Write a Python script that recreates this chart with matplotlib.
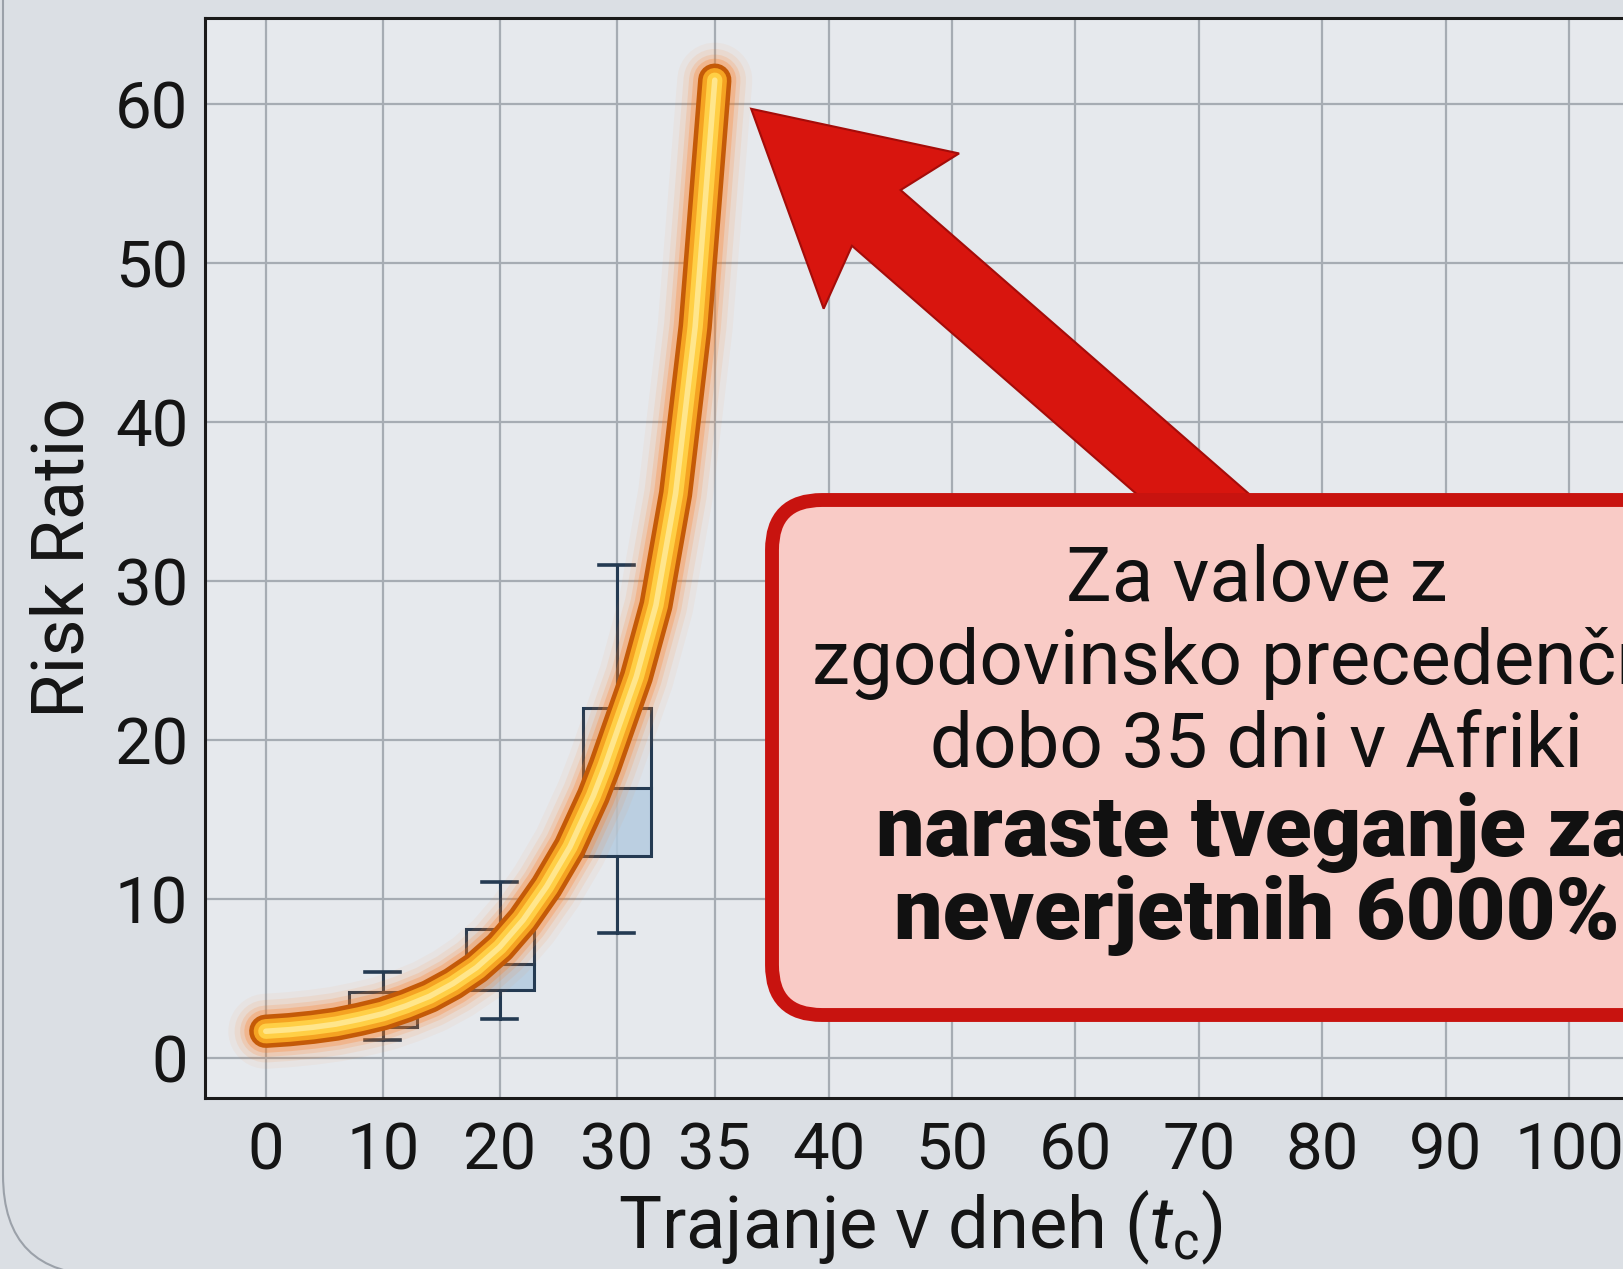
import numpy as np
import matplotlib
matplotlib.use('Agg')
import matplotlib.pyplot as plt
from matplotlib.patches import FancyBboxPatch, Rectangle, Polygon
from matplotlib.transforms import IdentityTransform

plt.rcParams['font.family'] = ['Roboto', 'DejaVu Sans']
plt.rcParams['mathtext.fontset'] = 'custom'
plt.rcParams['mathtext.rm'] = 'Roboto'
plt.rcParams['mathtext.it'] = 'Roboto:italic'

# risk ratio curve
days = [0, 2, 4, 6, 8, 10, 12, 14, 16, 18, 20, 22, 24, 26, 28, 29, 30, 31, 32, 33, 34, 35]
risk = [1.7, 1.8, 1.95, 2.15, 2.45, 2.8, 3.3, 3.9, 4.7, 5.7, 7.0, 8.7, 10.8, 13.3, 16.5,
        18.4, 20.5, 24.0, 28.5, 35.5, 46.0, 61.5]

# box plots
box_days = [10, 20, 30]
box_low = [1.15, 2.45, 7.9]
box_q1 = [1.95, 4.3, 12.7]
box_med = [3.0, 5.9, 17.0]
box_q3 = [4.2, 8.1, 22.0]
box_high = [5.4, 11.1, 31.0]

x_ticks = [0, 10, 20, 30, 35, 40, 50, 60, 70, 80, 90, 100]
y_ticks = [0, 10, 20, 30, 40, 50, 60]

note_lines = ['Za valove z', 'zgodovinsko precedenčno', 'dobo 35 dni v Afriki']
note_bold = ['naraste tveganje za', 'neverjetnih 6000%']

# arrow from the callout to the top of the curve
arrow_tip = (36.6, 59.7)
arrow_tail = (74.8, 31.9)

# uneven spacing of the day axis (30-35-40 is stretched)
scale_days = [-100, 0, 30, 35, 40, 100, 300]
scale_pos = [-96.7, 0, 29.0, 37.1, 46.5, 107.7, 311.7]


def fwd(x):
    return np.interp(x, scale_days, scale_pos)


def inv(x):
    return np.interp(x, scale_pos, scale_days)


fig = plt.figure(figsize=(16.24, 12.69), dpi=100)
fig.patch.set_facecolor('#dbdfe4')

# rounded card border
card = FancyBboxPatch((0.03, -0.06), 20, 14, boxstyle='round,pad=0,rounding_size=1.0',
                      transform=fig.dpi_scale_trans, fc='none', ec='#9ba1a9', lw=1.5, zorder=-1)
fig.add_artist(card)

ax = fig.add_axes([0.1262, 0.1347, 0.9495, 0.851])
ax.set_facecolor('#e6e9ed')
ax.set_xscale('function', functions=(fwd, inv))
ax.set_xlim(-5.2, 114.4)
ax.set_ylim(-2.5, 65.4)
ax.set_xticks(x_ticks)
ax.set_yticks(y_ticks)
ax.grid(True, color='#a6acb3', lw=1.6, zorder=0)
ax.set_axisbelow(True)
ax.tick_params(length=0, labelsize=47, colors='#151515', pad=12)
ax.tick_params(axis='x', pad=16)
for s in ax.spines.values():
    s.set_linewidth(2.2)
    s.set_color('#1a1a1a')

ax.set_ylabel('Risk Ratio', fontsize=52, color='#151515', labelpad=12)
ax.set_xlabel('Trajanje v dneh ($t_\\mathrm{c}$)', fontsize=52, color='#151515')
ax.xaxis.set_label_coords(0.464, -0.083)

# box plots, widths kept even on screen through the scale
half_box = 2.8
half_cap = 1.45
for d, lo, q1, md, q3, hi in zip(box_days, box_low, box_q1, box_med, box_q3, box_high):
    c = fwd(d)
    left, right = inv(c - half_box), inv(c + half_box)
    cl, cr = inv(c - half_cap), inv(c + half_cap)
    ax.add_patch(Rectangle((left, q1), right - left, md - q1, fc='#b4cbdf', ec='none',
                           alpha=0.85, zorder=2))
    ax.add_patch(Rectangle((left, md), right - left, q3 - md, fc='#d8e0e8', ec='none',
                           alpha=0.6, zorder=2))
    ax.add_patch(Rectangle((left, q1), right - left, q3 - q1, fc='none', ec='#243a52',
                           lw=2.2, zorder=2.5))
    ax.plot([left, right], [md, md], color='#243a52', lw=2.2, zorder=2.5)
    ax.plot([d, d], [lo, q1], color='#243a52', lw=2.2, zorder=2.5)
    ax.plot([d, d], [q3, hi], color='#243a52', lw=2.2, zorder=2.5)
    ax.plot([cl, cr], [lo, lo], color='#243a52', lw=2.6, zorder=2.5)
    ax.plot([cl, cr], [hi, hi], color='#243a52', lw=2.6, zorder=2.5)

# glowing curve
line_kw = dict(solid_capstyle='round', solid_joinstyle='round')
for lw, a in [(54, 0.05), (45, 0.09), (37, 0.15), (31, 0.25)]:
    ax.plot(days, risk, color='#ff7a1a', lw=lw, alpha=a, zorder=3, **line_kw)
ax.plot(days, risk, color='#c45a08', lw=24, zorder=3.1, **line_kw)
ax.plot(days, risk, color='#f5a322', lw=17.5, zorder=3.2, **line_kw)
ax.plot(days, risk, color='#ffcf45', lw=11, zorder=3.3, **line_kw)
ax.plot(days, risk, color='#ffe68c', lw=4, zorder=3.4, **line_kw)

# big red arrow with swept-back head, built in screen pixels from the two data points
tip = ax.transData.transform(arrow_tip)
tail = ax.transData.transform(arrow_tail)
u = (tip - tail) / np.hypot(*(tip - tail))
n = np.array([-u[1], u[0]])
head_len, notch_len, head_half, shaft_half = 186, 166, 103, 37
verts = [tip,
         tip - u * head_len + n * head_half,
         tip - u * notch_len + n * shaft_half,
         tail + n * shaft_half,
         tail - n * shaft_half,
         tip - u * notch_len - n * shaft_half,
         tip - u * head_len - n * head_half]
ax.add_patch(Polygon(verts, closed=True, transform=IdentityTransform(), fc='#d8150e',
                     ec='#a50c09', lw=1.5, zorder=4, clip_on=False))

# callout box
note = FancyBboxPatch((7.72, 2.54), 10, 5.15, boxstyle='round,pad=0,rounding_size=0.5',
                      transform=fig.dpi_scale_trans, fc='#f9cbc6', ec='#c8130f', lw=10, zorder=5)
fig.add_artist(note)

cx = 1257 / 1624
y0 = 1 - 601 / 1269
step = 83 / 1269
for i, line in enumerate(note_lines):
    fig.text(cx, y0 - i * step, line, ha='center', va='baseline', fontsize=55,
             color='#111111', zorder=6)
for j, line in enumerate(note_bold):
    fig.text(cx, y0 - (len(note_lines) + j) * step - 6 / 1269, line, ha='center', va='baseline',
             fontsize=62, fontweight='black', color='#111111', zorder=6)

fig.savefig('out.png', dpi=100, facecolor=fig.get_facecolor())
